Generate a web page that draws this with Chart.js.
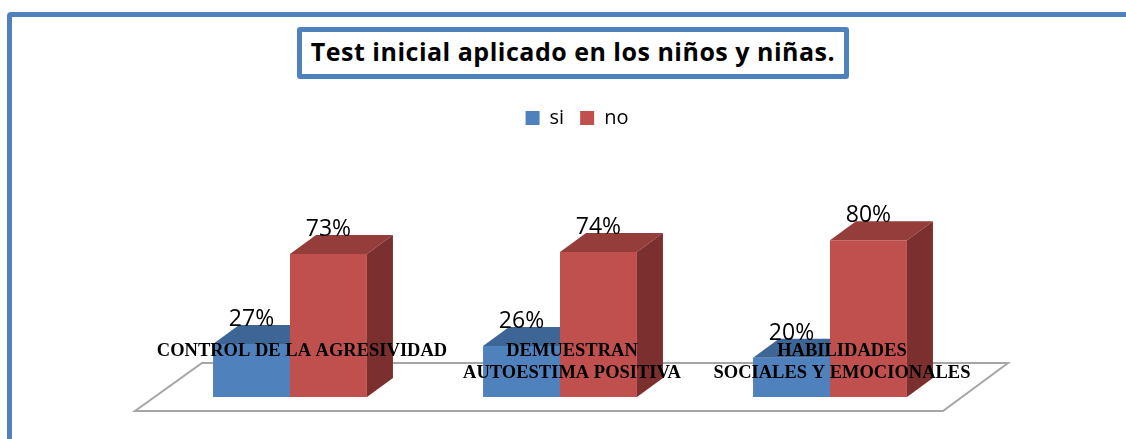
<!DOCTYPE html>
<html>
<head>
<meta charset="utf-8">
<script src="https://cdn.jsdelivr.net/npm/chart.js@4.4.0/dist/chart.umd.min.js"></script>
<style>
  body { margin: 0; background: #fff; width: 1126px; height: 439px; overflow: hidden; position: relative; }
  #frame { position: absolute; left: 7px; top: 12px; width: 1300px; height: 600px; border: 5px solid #4f81bd; border-radius: 4px; }
  #wrap { position: absolute; left: 0; top: 0; width: 1126px; height: 439px; }
  #title {
    position: absolute; left: 297px; top: 27px; width: 552px; height: 52px;
    box-sizing: border-box; border: 5px solid #4f81bd; border-radius: 3px; background: #fff;
    font: bold 25px "Open Sans", sans-serif; letter-spacing: 0.5px; line-height: 38px;
    text-align: center; color: #000; white-space: nowrap;
  }
</style>
</head>
<body>
<div id="frame"></div>
<div id="wrap"><canvas id="chart" width="1126" height="439"></canvas></div>
<div id="title">Test inicial aplicado en los niños y niñas.</div>
<script>
const categories = [['CONTROL DE LA AGRESIVIDAD'], ['DEMUESTRAN', 'AUTOESTIMA POSITIVA'], ['HABILIDADES', 'SOCIALES Y EMOCIONALES']];
const seriesNames = ['si', 'no'];
const siValues = [27, 26, 20];
const noValues = [73, 74, 80];

const frontColors = ['#4f81bd', '#c0504d'];
const topColors = ['#3d6596', '#943d3b'];
const sideColors = ['#34577f', '#7b2f2e'];
const depthX = 26;
const depthY = -19;

// draws the floor and the top/side faces before the fronts, labels after
const bar3d = {
  id: 'bar3d',
  afterLayout(chart) {
    // legend sits under the title box, a bit right of the plot centre
    chart.legend.left += 17;
    chart.legend.right += 17;
  },
  beforeDatasetsDraw(chart) {
    const ctx = chart.ctx;
    const a = chart.chartArea;
    ctx.save();
    ctx.beginPath();
    ctx.moveTo(a.left - 20, a.bottom + 14);
    ctx.lineTo(a.right - 22, a.bottom + 14);
    ctx.lineTo(a.right + 43, a.bottom - 34);
    ctx.lineTo(a.left + 47, a.bottom - 34);
    ctx.closePath();
    ctx.fillStyle = '#fff';
    ctx.fill();
    ctx.strokeStyle = '#a6a6a6';
    ctx.lineWidth = 2;
    ctx.stroke();

    chart.data.datasets.forEach((ds, i) => {
      chart.getDatasetMeta(i).data.forEach(bar => {
        const l = bar.x - bar.width / 2;
        const r = bar.x + bar.width / 2;
        ctx.beginPath();
        ctx.moveTo(l, bar.y);
        ctx.lineTo(r, bar.y);
        ctx.lineTo(r + depthX, bar.y + depthY);
        ctx.lineTo(l + depthX, bar.y + depthY);
        ctx.closePath();
        ctx.fillStyle = topColors[i];
        ctx.fill();

        ctx.beginPath();
        ctx.moveTo(r, bar.y);
        ctx.lineTo(r + depthX, bar.y + depthY);
        ctx.lineTo(r + depthX, bar.base + depthY);
        ctx.lineTo(r, bar.base);
        ctx.closePath();
        ctx.fillStyle = sideColors[i];
        ctx.fill();
      });
    });
    ctx.restore();
  },
  afterDatasetsDraw(chart) {
    const ctx = chart.ctx;
    const a = chart.chartArea;
    ctx.save();
    ctx.fillStyle = '#000';
    ctx.textAlign = 'center';

    ctx.font = '23px "Open Sans"';
    ctx.textBaseline = 'alphabetic';
    chart.data.datasets.forEach((ds, i) => {
      chart.getDatasetMeta(i).data.forEach((bar, j) => {
        ctx.fillText(ds.data[j] + '%', bar.x, bar.y + depthY + 1);
      });
    });

    ctx.font = 'bold 18.5px "Liberation Serif"';
    ctx.textBaseline = 'middle';
    const xs = chart.scales.x;
    chart.data.labels.forEach((lines, j) => {
      const cx = xs.getPixelForValue(j) + 12;
      lines.forEach((t, k) => ctx.fillText(t, cx, a.bottom - 46 + k * 22));
    });
    ctx.restore();
  }
};

new Chart(document.getElementById('chart'), {
  type: 'bar',
  data: {
    labels: categories,
    datasets: [
      { label: seriesNames[0], data: siValues, backgroundColor: frontColors[0], borderWidth: 0 },
      { label: seriesNames[1], data: noValues, backgroundColor: frontColors[1], borderWidth: 0 }
    ]
  },
  options: {
    responsive: false,
    animation: false,
    layout: { padding: { left: 155, right: 161, top: 92, bottom: 42 } },
    datasets: { bar: { categoryPercentage: 0.57, barPercentage: 1 } },
    scales: {
      x: { display: false },
      y: { display: false, min: 0, max: 100 },
      gap: {
        type: 'category', position: 'top', axis: 'x',
        grid: { display: false }, border: { display: false }, ticks: { display: false },
        afterFit(s) { s.height = 63; }
      }
    },
    plugins: {
      legend: {
        position: 'top',
        labels: {
          boxWidth: 14, boxHeight: 14, padding: 16, color: '#000',
          font: { family: 'Open Sans', size: 20 }
        }
      },
      tooltip: { enabled: false }
    }
  },
  plugins: [bar3d]
});
</script>
</body>
</html>
